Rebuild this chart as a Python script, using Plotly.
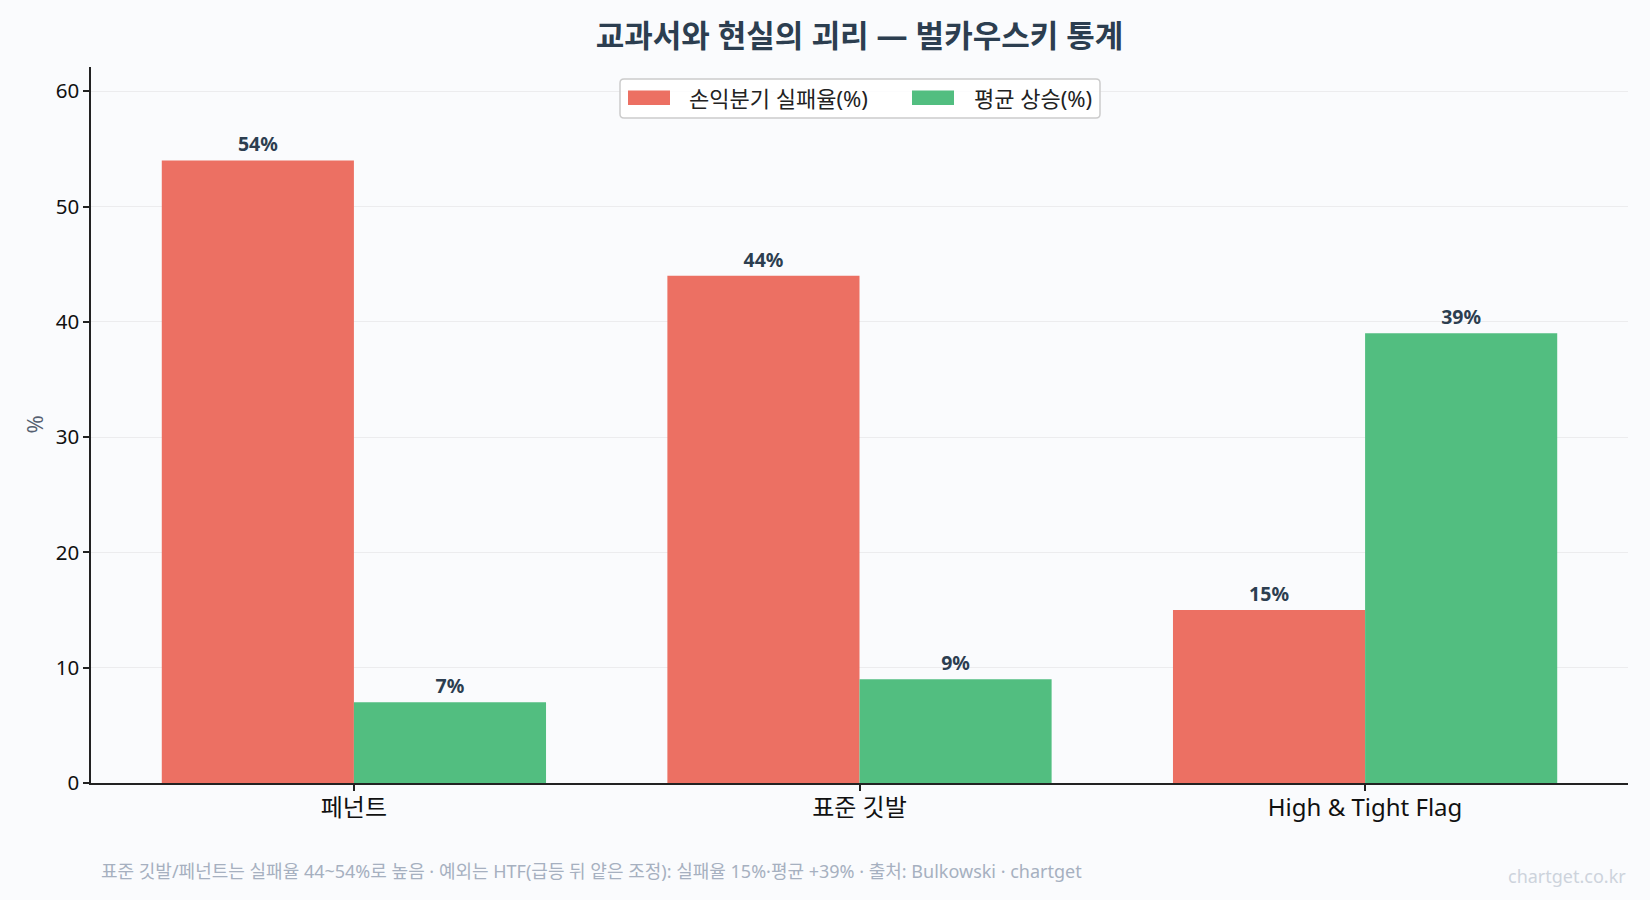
import plotly.graph_objects as go

categories = ["페넌트", "표준 깃발", "High & Tight Flag"]
fail_rate = [54, 44, 15]
avg_gain = [7, 9, 39]
series_names = ["손익분기 실패율(%)", "평균 상승(%)"]
series_colors = ["#EC7063", "#52BE80"]
title = "교과서와 현실의 괴리 — 벌카우스키 통계"
footer = "표준 깃발/페넌트는 실패율 44~54%로 높음 · 예외는 HTF(급등 뒤 얕은 조정): 실패율 15%·평균 +39% · 출처: Bulkowski · chartget"
watermark = "chartget.co.kr"

FONT = "Noto Sans, Noto Sans CJK KR, sans-serif"
BG = "#fafbfd"

# plot area in pixels
L, R, T, B = 91, 1628, 67, 783
PW, PH = R - L, B - T


def px(x):
    return (x - L) / PW


def py(y):
    return (B - y) / PH


fig = go.Figure()
for vals, name, col in [(fail_rate, series_names[0], series_colors[0]),
                        (avg_gain, series_names[1], series_colors[1])]:
    fig.add_trace(go.Bar(
        x=categories, y=vals, name=name,
        marker=dict(color=col, line=dict(width=0)),
        text=[f"{v}%" for v in vals], textposition="outside",
        textfont=dict(family=FONT, size=19.5, color="#2c3e50", weight="bold"),
        cliponaxis=False, showlegend=False,
    ))

fig.update_layout(
    width=1650, height=900,
    paper_bgcolor=BG, plot_bgcolor=BG,
    font=dict(family=FONT, color="#111"),
    margin=dict(l=L, r=1650 - R, t=T, b=900 - B),
    barmode="group", bargap=0.24, bargroupgap=0,
    title=dict(text=title, x=0.5, xref="paper", xanchor="center",
               y=1 - 36 / 900, yanchor="middle",
               font=dict(family=FONT, size=31, color="#2c3e50", weight="bold")),
    xaxis=dict(range=[-0.52, 2.52], showline=True, linecolor="#222", linewidth=1.5,
               ticks="outside", ticklen=6, tickcolor="#222", tickwidth=1.5,
               ticklabelstandoff=-4,
               tickfont=dict(family=FONT, size=24, color="#111"),
               showgrid=False, zeroline=False),
    yaxis=dict(range=[0, 62.1], showline=True, linecolor="#222", linewidth=1.5,
               ticks="outside", ticklen=6, tickcolor="#222", tickwidth=1.5,
               tickvals=[0, 10, 20, 30, 40, 50, 60],
               tickfont=dict(family=FONT, size=20.5, color="#111"),
               showgrid=True, gridcolor="#ececee", gridwidth=1, zeroline=False),
)

# y axis title
fig.add_annotation(text="%", xref="paper", yref="paper", x=px(33.5), xanchor="center",
                   y=py(425), yanchor="middle", textangle=-90, showarrow=False,
                   font=dict(family=FONT, size=22, color="#556070"))

# manual legend (wide swatches like the reference)
bx0, bx1, by0, by1 = 620, 1100, 79, 118
r = 4
path = (f"M {px(bx0 + r)},{py(by0)} L {px(bx1 - r)},{py(by0)} "
        f"Q {px(bx1)},{py(by0)} {px(bx1)},{py(by0 + r)} L {px(bx1)},{py(by1 - r)} "
        f"Q {px(bx1)},{py(by1)} {px(bx1 - r)},{py(by1)} L {px(bx0 + r)},{py(by1)} "
        f"Q {px(bx0)},{py(by1)} {px(bx0)},{py(by1 - r)} L {px(bx0)},{py(by0 + r)} "
        f"Q {px(bx0)},{py(by0)} {px(bx0 + r)},{py(by0)} Z")
fig.add_shape(type="path", path=path, xref="paper", yref="paper",
              fillcolor="rgba(255,255,255,0.85)", line=dict(color="#cccccc", width=1.5), layer="above")
swatches = [(628, 670, 687), (912, 954, 972)]
for (s0, s1, tx), name, col in zip(swatches, series_names, series_colors):
    fig.add_shape(type="rect", xref="paper", yref="paper",
                  x0=px(s0), x1=px(s1), y0=py(90.5), y1=py(105),
                  fillcolor=col, line=dict(width=0), layer="above")
    fig.add_annotation(text=name, xref="paper", yref="paper", x=px(tx), xanchor="left",
                       y=py(98), yanchor="middle", showarrow=False,
                       font=dict(family=FONT, size=22, color="#222"))

fig.add_annotation(text=footer, xref="paper", yref="paper",
                   x=px(99), xanchor="left",
                   y=py(871), yanchor="middle", showarrow=False,
                   font=dict(family=FONT, size=18, color="#a6b0c0"))
fig.add_annotation(text=watermark, xref="paper", yref="paper",
                   x=1.0, xanchor="right",
                   y=py(876), yanchor="middle", showarrow=False,
                   font=dict(family=FONT, size=18, color="#cdd3dc"))

fig.write_html("out.html")
